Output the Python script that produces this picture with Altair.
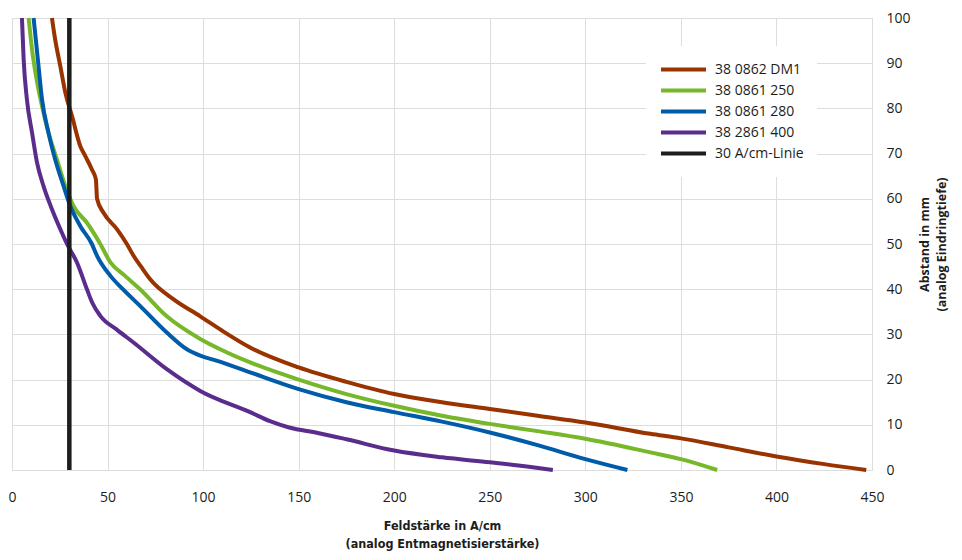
import altair as alt
import pandas as pd

series_names = ["38 0862 DM1", "38 0861 250", "38 0861 280", "38 2861 400", "30 A/cm-Linie"]
series_colors = ["#993300", "#77b82a", "#005ca8", "#5a2c8c", "#1d1d1b"]

dm1_x = [20.9, 22.6, 25.3, 27.9, 31.4, 35.7, 38.3, 41.8, 43.9, 44.5, 47.9, 54.9, 60.1, 63.6, 68, 72.3, 84.4, 98.5, 110, 124.6, 150, 175, 200, 225, 250, 275, 300, 334, 350, 375, 400, 425, 447]
dm1_y = [100, 95.2, 89.3, 83.5, 78.3, 71.7, 69.5, 66.5, 64.3, 60, 56.9, 53.3, 50, 47.4, 44.7, 42.2, 37.8, 34, 30.8, 27.1, 22.7, 19.5, 16.8, 15, 13.5, 12, 10.5, 8, 7, 5, 3, 1.3, 0]

g250_x = [8.7, 10.5, 13.1, 15.7, 19.1, 23.5, 27.9, 32.2, 39.2, 46.2, 51.4, 59, 67, 81, 98.5, 110, 124.6, 150, 175, 200, 225, 250, 275, 300, 334, 350, 369]
g250_y = [100, 93, 85.9, 80.5, 74.6, 68.7, 62.8, 58.4, 54.7, 50, 46, 43, 40, 34, 29, 26.5, 23.8, 20, 16.8, 14.2, 12, 10.2, 8.6, 6.9, 3.9, 2.4, 0]

b280_x = [11.3, 13.9, 15.7, 19.1, 22.6, 27, 30.5, 35.7, 41.8, 44.5, 51.4, 58, 67, 81, 91.5, 98.5, 107, 124.6, 150, 175, 200, 225, 250, 275, 300, 322]
b280_y = [100, 89.3, 82, 74.6, 68.7, 62.8, 58.4, 54, 50, 47.4, 43, 40, 36.3, 30.4, 26.7, 25.3, 24.2, 21.6, 17.9, 15, 12.8, 10.7, 8.3, 5.5, 2.4, 0]

p400_x = [5.2, 6.1, 7.8, 10.5, 13.1, 16.5, 20.9, 26.1, 28.8, 34, 39.2, 42, 46.2, 55, 63.6, 81, 98.5, 124.6, 135, 145, 160, 175, 200, 225, 250, 265, 283]
p400_y = [100, 90.8, 82, 74.6, 68, 62.8, 57.7, 52.5, 50, 45.9, 40, 37, 34.1, 31, 28.2, 22.3, 17.5, 12.8, 10.8, 9.4, 8.2, 6.8, 4.3, 2.8, 1.7, 1, 0]

ref_x = [30, 30]
ref_y = [0, 100]

x_ticks = list(range(0, 451, 50))
y_ticks = list(range(0, 101, 10))

rows = []
for name, xs, ys in [
    (series_names[0], dm1_x, dm1_y),
    (series_names[1], g250_x, g250_y),
    (series_names[2], b280_x, b280_y),
    (series_names[3], p400_x, p400_y),
]:
    for i, (a, b) in enumerate(zip(xs, ys)):
        rows.append({"serie": name, "x": a, "y": b, "i": i})
curves = pd.DataFrame(rows)
ref = pd.DataFrame({"serie": [series_names[4]] * 2, "x": ref_x, "y": ref_y, "i": [0, 1]})

FONT = "Open Sans"
TXT = "#1d1d1b"

color = alt.Color(
    "serie:N",
    scale=alt.Scale(domain=series_names, range=series_colors),
    legend=alt.Legend(
        title=None,
        orient="none",
        legendX=634,
        legendY=28,
        fillColor="white",
        padding=13,
        symbolType="stroke",
        symbolSize=2025,
        symbolStrokeWidth=4,
        clipHeight=21,
        rowPadding=0,
        labelFontSize=14,
        labelFont=FONT,
        labelColor=TXT,
        labelOffset=7,
    ),
    sort=series_names,
)

x_enc = alt.X(
    "x:Q",
    scale=alt.Scale(domain=[0, 450], nice=False, zero=False),
    axis=alt.Axis(
        values=x_ticks,
        title=["Feldstärke in A/cm", "(analog Entmagnetisierstärke)"],
        titleFont="DejaVu Sans Condensed, Liberation Sans Narrow, Open Sans, sans-serif",
        titleFontSize=12.5,
        titleFontWeight="bold",
        titleLineHeight=18,
        titlePadding=15,
        titleColor=TXT,
        labelPadding=20,
        labelFontSize=14,
        labelFont=FONT,
        labelColor=TXT,
        labelFlush=False,
        ticks=False,
        domain=False,
        grid=True,
    ),
)
y_enc = alt.Y(
    "y:Q",
    scale=alt.Scale(domain=[0, 100], nice=False, zero=False),
    axis=alt.Axis(
        orient="right",
        values=y_ticks,
        title=["Abstand in mm", "(analog Eindringtiefe)"],
        titleAngle=270,
        titleFont=FONT,
        titleFontSize=12.5,
        titleFontWeight="bold",
        titleLineHeight=17,
        titlePadding=4,
        titleColor=TXT,
        labelPadding=14,
        labelFontSize=14,
        labelFont=FONT,
        labelColor=TXT,
        labelFlush=False,
        ticks=False,
        domain=False,
        grid=True,
    ),
)

lines = alt.Chart(curves).mark_line(interpolate="monotone", strokeWidth=4).encode(
    x=x_enc, y=y_enc, color=color, order="i:Q"
)
refline = alt.Chart(ref).mark_line(strokeWidth=4.5).encode(
    x=x_enc, y=y_enc, color=color, order="i:Q"
)

chart = (
    alt.layer(lines, refline)
    .properties(
        width=860,
        height=452,
        autosize=alt.AutoSizeParams(type="none"),
        padding={"left": 4, "top": 10, "right": 82, "bottom": 82},
    )
    .configure_view(stroke="#b3b3b3", strokeWidth=1.5)
    .configure_axis(gridColor="#b3b3b3", gridWidth=1.5, gridOpacity=1)
    .configure(background="white")
)

chart.save("out.html", embed_options={"renderer": "svg", "actions": False})
